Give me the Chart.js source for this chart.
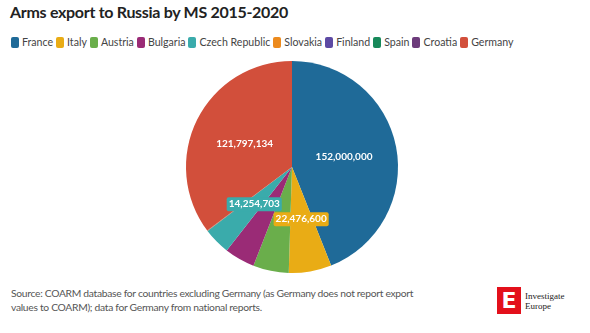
<!DOCTYPE html>
<html>
<head>
<meta charset="utf-8">
<script src="https://cdn.jsdelivr.net/npm/chart.js@4"></script>
<style>
    body { margin: 0; background: #fff; font-family: Lato, sans-serif; }
    #wrap { position: relative; width: 590px; height: 333px; overflow: hidden; }
    h1 { position: absolute; left: 10px; top: 2px; margin: 0; font-size: 16px; letter-spacing: -0.3px; font-weight: 700; color: #222; }
    #legend { position: absolute; left: 11px; top: 36px; display: flex; font-size: 10.6px; color: #444; }
    #legend .item { display: flex; align-items: center; margin-right: 3px; }
    #legend .box { width: 8px; height: 11px; border-radius: 2px; margin-right: 3px; }
    #chartBox { position: absolute; left: 0; top: 61px; width: 584px; height: 212px; }
    #source { position: absolute; left: 11px; top: 286px; width: 470px; font-size: 10.3px; letter-spacing: -0.3px; line-height: 14px; color: #555; }
    #logo { position: absolute; left: 497px; top: 287px; display: flex; align-items: center; }
    #logo .mark { width: 24px; height: 27px; background: #e3101b; color: #fff; font: 700 22px 'DejaVu Sans', sans-serif; text-align: center; line-height: 27px; }
    #logo .name { margin-left: 4px; font: 9px/10px 'Liberation Serif', serif; color: #222; }
</style>
</head>
<body>
<div id="wrap">
    <h1>Arms export to Russia by MS 2015-2020</h1>
    <div id="legend"></div>
    <div id="chartBox"><canvas id="armsPie"></canvas></div>
    <div id="source">Source: COARM database for countries excluding Germany (as Germany does not report export<br>values to COARM); data for Germany from national reports.</div>
    <div id="logo"><div class="mark">E</div><div class="name">Investigate<br>Europe</div></div>
</div>
<script>
// Arms exports (EUR) per member state
const countries = ['France', 'Italy', 'Austria', 'Bulgaria', 'Czech Republic', 'Slovakia', 'Finland', 'Spain', 'Croatia', 'Germany'];
const exportValues = [152000000, 22476600, 18800000, 16000000, 14254703, 120000, 60000, 40000, 20000, 121797134];
const sliceColors = ['#1f6a98', '#e9ac15', '#6aae4b', '#9a2b76', '#3aabab', '#ec8a1d', '#5d4aa4', '#17895a', '#6d3b7b', '#d24f3b'];
const labeledCountries = ['France', 'Italy', 'Czech Republic', 'Germany'];

document.addEventListener('DOMContentLoaded', function() {
    // Legend
    const legend = document.getElementById('legend');
    countries.forEach(function(name, i) {
        const item = document.createElement('div');
        item.className = 'item';
        item.innerHTML = '<span class="box" style="background:' + sliceColors[i] + '"></span>' + name;
        legend.appendChild(item);
    });

    // Value labels inside the slices
    const sliceLabels = {
        id: 'sliceLabels',
        afterDatasetsDraw: function(chart) {
            const ctx = chart.ctx;
            const meta = chart.getDatasetMeta(0);
            const total = exportValues.reduce((a, b) => a + b, 0);
            ctx.save();
            ctx.font = '700 10px Lato, sans-serif';
            ctx.textAlign = 'center';
            ctx.textBaseline = 'middle';
            meta.data.forEach(function(arc, i) {
                if (!labeledCountries.includes(countries[i])) return;
                const pos = arc.getCenterPoint();
                const text = exportValues[i].toLocaleString('en-US');
                if (exportValues[i] / total < 0.1) {
                    const w = ctx.measureText(text).width + 4;
                    ctx.fillStyle = sliceColors[i];
                    ctx.beginPath();
                    ctx.roundRect(pos.x - w / 2, pos.y - 7, w, 14, 2);
                    ctx.fill();
                }
                ctx.fillStyle = '#fff';
                ctx.fillText(text, pos.x, pos.y);
            });
            ctx.restore();
        }
    };

    const pieCtx = document.getElementById('armsPie').getContext('2d');
    new Chart(pieCtx, {
        type: 'pie',
        data: {
            labels: countries,
            datasets: [{
                data: exportValues,
                backgroundColor: sliceColors,
                borderWidth: 0
            }]
        },
        options: {
            responsive: true,
            maintainAspectRatio: false,
            animation: false,
            plugins: {
                legend: { display: false },
                tooltip: { enabled: false }
            }
        },
        plugins: [sliceLabels]
    });
});
</script>
</body>
</html>
